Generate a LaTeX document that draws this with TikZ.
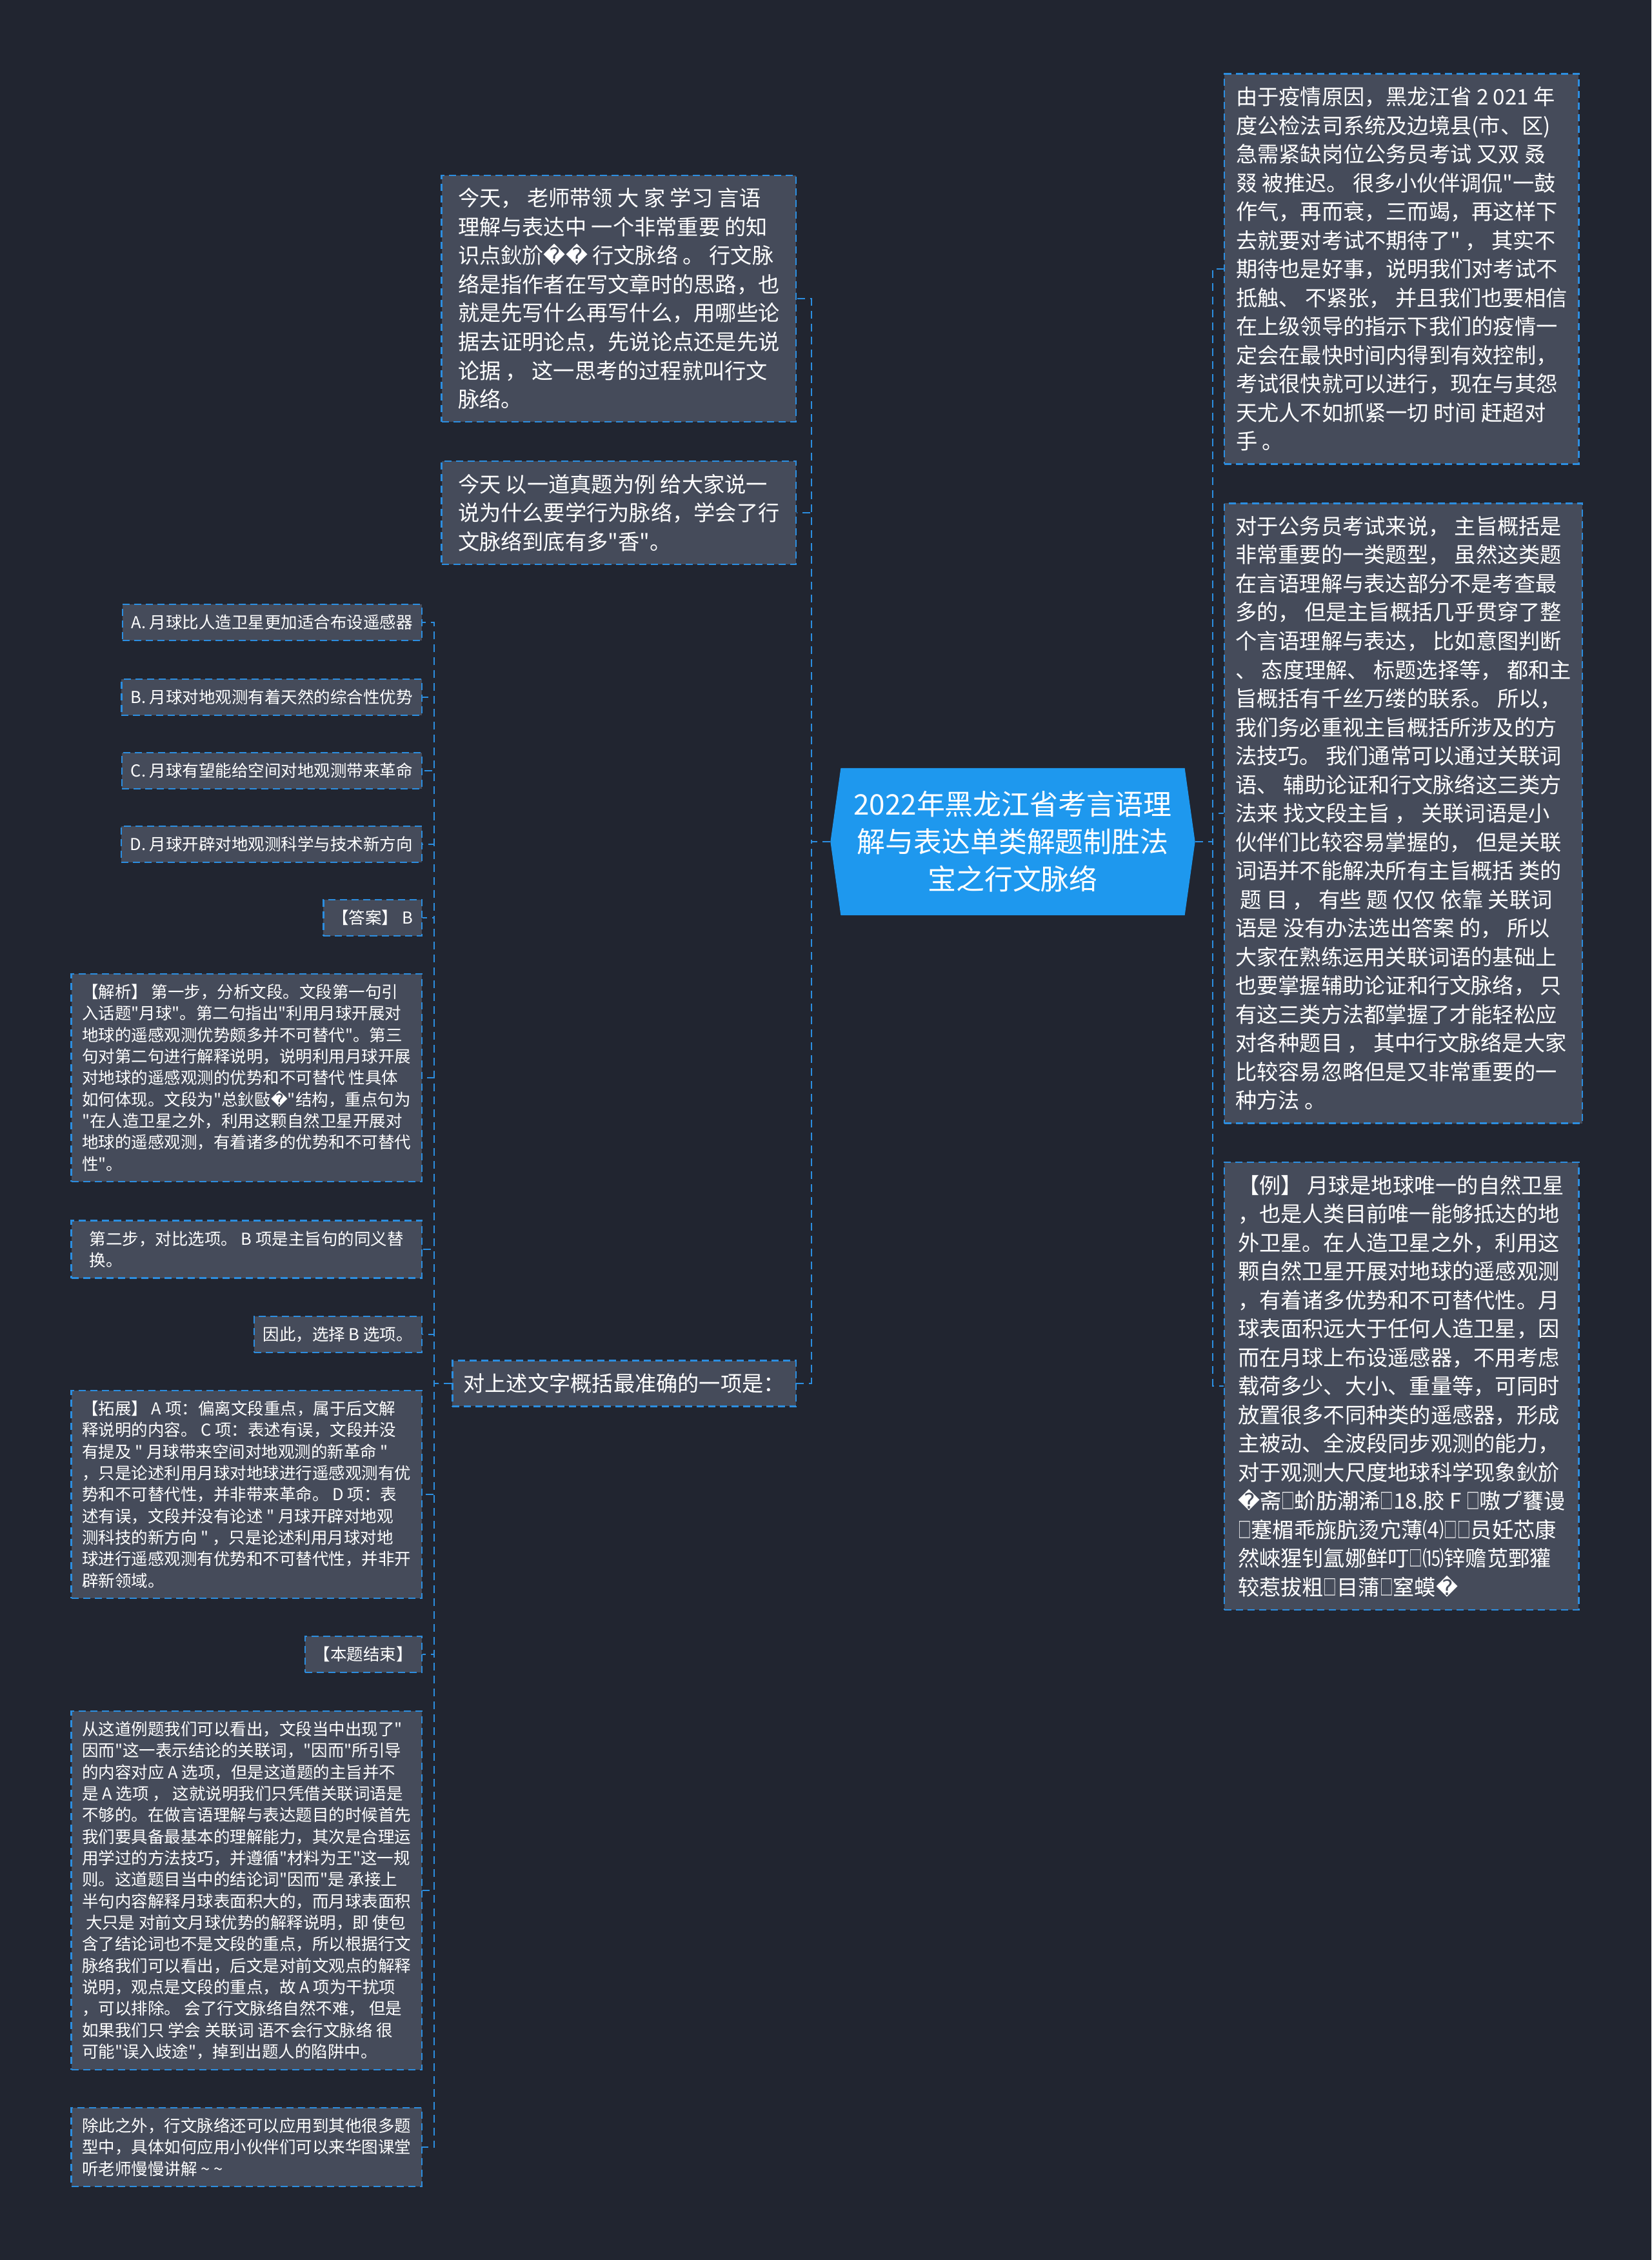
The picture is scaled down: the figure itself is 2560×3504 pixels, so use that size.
\documentclass[tikz,border=0pt]{standalone}
\usepackage{fontspec}
\usepackage{graphicx}
\setmainfont{Noto Sans CJK SC}[Ligatures=TeXOff]
\newfontfamily\symfont{DejaVu Sans}
\newcommand\badch{{\symfont\char"FFFD}}
\newcommand\tofu{\scalebox{0.62}[1]{□}}
\usetikzlibrary{shapes.symbols}
\definecolor{mapbg}{HTML}{212530}
\definecolor{mapbox}{HTML}{454B5A}
\definecolor{mapline}{HTML}{2C8EE0}
\definecolor{maptitle}{HTML}{1E98EE}

\begin{document}
\begin{tikzpicture}[x=0.01cm,y=-0.01cm,
  card/.style={draw=mapline,fill=mapbox,text=white,line width=0.022cm,dash pattern=on 0.11cm off 0.07cm,align=left},
  panel/.style={card,font=\fontsize{9.45pt}{12.66pt}\selectfont,inner xsep=0.17cm,inner ysep=0.2cm},
  wide/.style={panel,minimum width=5.49cm},
  note/.style={card,font=\fontsize{7.25pt}{9.48pt}\selectfont,inner xsep=0.14cm,inner ysep=0.16cm},
  longnote/.style={note,inner xsep=0.11cm,minimum width=5.43cm},
  hub/.style={signal,signal to=east and west,signal pointer angle=164,fill=maptitle,text=white,align=center,
    font=\fontsize{12.5pt}{16.5pt}\selectfont,inner xsep=0.2cm,inner ysep=0.34cm,minimum width=5.59cm,minimum height=2.28cm},
  link/.style={draw=mapline,line width=0.022cm,dash pattern=on 0.12cm off 0.08cm}]
  \fill[mapbg,use as bounding box] (0,0) rectangle (2560,3504);

  \node[hub] (title) at (1570,1305) {2022年黑龙江省考言语理\\解与表达单类解题制胜法\\宝之行文脉络};

  \node[wide,anchor=east] (intro) at (1235,463) {今天， 老师带领 大 家 学习 言语\\
理解与表达中 一个非常重要 的知\\
识点鈥斺\badch\badch{} 行文脉络 。 行文脉\\
络是指作者在写文章时的思路，也\\
就是先写什么再写什么，用哪些论\\
据去证明论点，先说论点还是先说\\
论据 ， 这一思考的过程就叫行文\\
脉络。};
  \node[wide,anchor=east] (example) at (1235,795) {今天 以一道真题为例 给大家说一\\
说为什么要学行为脉络，学会了行\\
文脉络到底有多"香"。};
  \node[panel,anchor=east] (question) at (1235,2145) {对上述文字概括最准确的一项是：};

  \node[wide,anchor=west] (delay) at (1897,417) {由于疫情原因，黑龙江省 2 021 年\\
度公检法司系统及边境县(市、区)\\
急需紧缺岗位公务员考试 又双 叒\\
叕 被推迟。 很多小伙伴调侃"一鼓\\
作气，再而衰，三而竭，再这样下\\
去就要对考试不期待了" ， 其实不\\
期待也是好事，说明我们对考试不\\
抵触、 不紧张， 并且我们也要相信\\
在上级领导的指示下我们的疫情一\\
定会在最快时间内得到有效控制，\\
考试很快就可以进行，现在与其怨\\
天尤人不如抓紧一切 时间 赶超对\\
手 。};
  \node[wide,anchor=west] (mainidea) at (1897,1261) {对于公务员考试来说， 主旨概括是\\
非常重要的一类题型， 虽然这类题\\
在言语理解与表达部分不是考查最\\
多的， 但是主旨概括几乎贯穿了整\\
个言语理解与表达， 比如意图判断\\
、 态度理解、 标题选择等， 都和主\\
旨概括有千丝万缕的联系。 所以，\\
我们务必重视主旨概括所涉及的方\\
法技巧。 我们通常可以通过关联词\\
语、 辅助论证和行文脉络这三类方\\
法来 找文段主旨 ，  关联词语是小\\
伙伴们比较容易掌握的， 但是关联\\
词语并不能解决所有主旨概括 类的\\
\ 题 目 ， 有些 题 仅仅 依靠 关联词\\
语是 没有办法选出答案 的， 所以\\
大家在熟练运用关联词语的基础上\\
也要掌握辅助论证和行文脉络， 只\\
有这三类方法都掌握了才能轻松应\\
对各种题目 ， 其中行文脉络是大家\\
比较容易忽略但是又非常重要的一\\
种方法 。};
  \node[wide,anchor=west] (moon) at (1897,2149) {【例】 月球是地球唯一的自然卫星\\
，也是人类目前唯一能够抵达的地\\
外卫星。在人造卫星之外，利用这\\
颗自然卫星开展对地球的遥感观测\\
，有着诸多优势和不可替代性。月\\
球表面积远大于任何人造卫星，因\\
而在月球上布设遥感器，不用考虑\\
载荷多少、大小、重量等，可同时\\
放置很多不同种类的遥感器，形成\\
主被动、全波段同步观测的能力，\\
对于观测大尺度地球科学现象鈥斺\\
\badch 斋\tofu 蚧肪潮浠\tofu 18.胶 F \tofu 嗷プ饔谩\\
\tofu 蹇楣乖旐肮烫宂薄⑷\tofu\tofu 员妊芯康\\
然崍猩钊氲娜鲜叮\tofu ⒂锌赡苋鄄獾\\
较惹拔粗\tofu 目蒲\tofu 窒蟆\badch};

  \node[note,anchor=east] (optA) at (655,965) {A. 月球比人造卫星更加适合布设遥感器};
  \node[note,anchor=east] (optB) at (655,1081) {B. 月球对地观测有着天然的综合性优势};
  \node[note,anchor=east] (optC) at (655,1195) {C. 月球有望能给空间对地观测带来革命};
  \node[note,anchor=east] (optD) at (655,1309) {D. 月球开辟对地观测科学与技术新方向};
  \node[note,anchor=east] (answer) at (655,1423) {【答案】 B};
  \node[longnote,anchor=east] (analysis) at (655,1671) {【解析】 第一步，分析文段。文段第一句引\\
入话题"月球"。第二句指出"利用月球开展对\\
地球的遥感观测优势颇多并不可替代"。第三\\
句对第二句进行解释说明，说明利用月球开展\\
对地球的遥感观测的优势和不可替代 性具体\\
如何体现。文段为"总鈥敺\badch"结构，重点句为\\
"在人造卫星之外，利用这颗自然卫星开展对\\
地球的遥感观测，有着诸多的优势和不可替代\\
性"。};
  \node[longnote,anchor=east] (compare) at (655,1937) {第二步，对比选项。 B 项是主旨句的同义替\\
换。};
  \node[note,anchor=east] (choice) at (655,2069) {因此，选择 B 选项。};
  \node[longnote,anchor=east] (extend) at (655,2317) {【拓展】 A 项：偏离文段重点，属于后文解\\
释说明的内容。 C 项：表述有误，文段并没\\
有提及 " 月球带来空间对地观测的新革命 "\\
，只是论述利用月球对地球进行遥感观测有优\\
势和不可替代性，并非带来革命。 D 项：表\\
述有误，文段并没有论述 " 月球开辟对地观\\
测科技的新方向 " ，只是论述利用月球对地\\
球进行遥感观测有优势和不可替代性，并非开\\
辟新领域。};
  \node[note,anchor=east] (ending) at (655,2565) {【本题结束】};
  \node[longnote,anchor=east] (lesson) at (655,2931) {从这道例题我们可以看出，文段当中出现了"\\
因而"这一表示结论的关联词，"因而"所引导\\
的内容对应 A 选项，但是这道题的主旨并不\\
是 A 选项 ， 这就说明我们只凭借关联词语是\\
不够的。在做言语理解与表达题目的时候首先\\
我们要具备最基本的理解能力，其次是合理运\\
用学过的方法技巧，并遵循"材料为王"这一规\\
则。这道题目当中的结论词"因而"是 承接上\\
半句内容解释月球表面积大的，而月球表面积\\
\ 大只是 对前文月球优势的解释说明，即 使包\\
含了结论词也不是文段的重点，所以根据行文\\
脉络我们可以看出，后文是对前文观点的解释\\
说明，观点是文段的重点，故 A 项为干扰项\\
，可以排除。 会了行文脉络自然不难， 但是\\
如果我们只 学会 关联词 语不会行文脉络 很\\
可能"误入歧途"，掉到出题人的陷阱中。};
  \node[longnote,anchor=east] (outro) at (655,3329) {除此之外，行文脉络还可以应用到其他很多题\\
型中，具体如何应用小伙伴们可以来华图课堂\\
听老师慢慢讲解 \textasciitilde{} \textasciitilde};

  \foreach \n in {intro,example,question}
    \draw[link] (title.west) -- ++(-29,0) |- (\n.east);
  \foreach \n in {delay,mainidea,moon}
    \draw[link] (title.east) -- ++(27,0) |- (\n.west);
  \foreach \n in {optA,optB,optC,optD,answer,analysis,compare,choice,extend,ending,lesson,outro}
    \draw[link] (question.west) -- ++(-27,0) |- (\n.east);
\end{tikzpicture}
\end{document}
